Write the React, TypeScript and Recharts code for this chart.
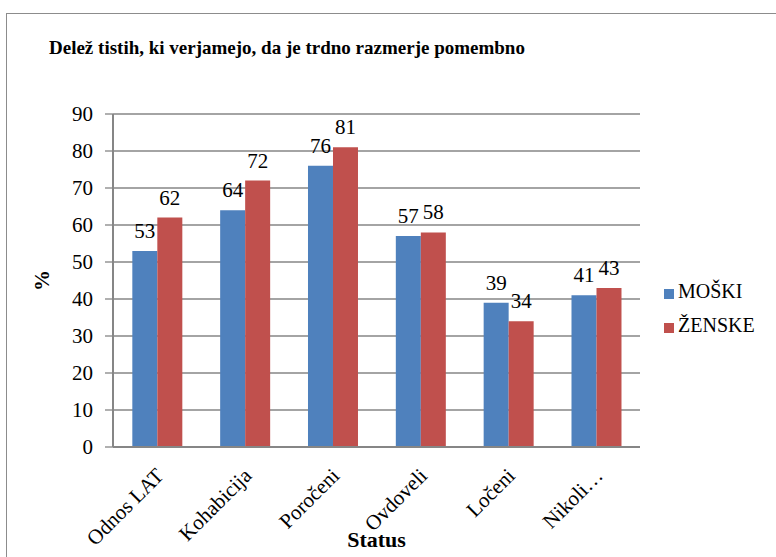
import { Bar, BarChart, CartesianGrid, LabelList, Legend, XAxis, YAxis } from 'recharts';

const statusi = ['Odnos LAT', 'Kohabicija', 'Poročeni', 'Ovdoveli', 'Ločeni', 'Nikoli…'];
const moski = [53, 64, 76, 57, 39, 41];
const zenske = [62, 72, 81, 58, 34, 43];
const yTicks = [0, 10, 20, 30, 40, 50, 60, 70, 80, 90];

const data = statusi.map((status, i) => ({ status, moski: moski[i], zenske: zenske[i] }));

const FONT = 'Liberation Serif';

const XTick = ({ x, y, payload }: any) => (
  <g transform={`translate(${x + 8},${y + 22})`}>
    <text transform="rotate(-45)" textAnchor="end" fontSize={21} fill="#000" fontFamily={FONT}>
      {payload.value}
    </text>
  </g>
);

const YLabel = ({ viewBox }: any) => (
  <text
    transform={`translate(${viewBox.x + 42},${viewBox.y + viewBox.height / 2}) rotate(-90)`}
    textAnchor="middle"
    dominantBaseline="central"
    fontSize={21}
    fontWeight="bold"
    fill="#000"
    fontFamily={FONT}
  >
    %
  </text>
);

const App = () => {
  return (
    <div style={{ position: 'absolute', left: 0, top: 0, width: 776, height: 557, background: '#fff', fontFamily: FONT }}>
      <div style={{ position: 'absolute', left: 6, top: 13, width: 800, height: 600, border: '1.5px solid #8c8c8c' }} />
      <div style={{ position: 'absolute', left: 49, top: 37, fontSize: 19, fontWeight: 'bold', color: '#000', fontFamily: FONT, whiteSpace: 'nowrap' }}>
        Delež tistih, ki verjamejo, da je trdno razmerje pomembno
      </div>
      <BarChart
        width={776}
        height={557}
        data={data}
        margin={{ top: 114, right: 136, left: 0, bottom: 0 }}
        barCategoryGap="22%"
        barGap={0}
        style={{ position: 'absolute', left: 0, top: 0, fontFamily: FONT }}
      >
        <CartesianGrid vertical={false} stroke="#868686" strokeWidth={1.3} />
        <XAxis
          dataKey="status"
          height={110}
          interval={0}
          tickLine={false}
          axisLine={{ stroke: '#868686', strokeWidth: 2 }}
          tick={<XTick />}
          label={{ value: 'Status', position: 'insideBottom', offset: 10, fontSize: 22, fontWeight: 'bold', fill: '#000', fontFamily: FONT }}
        />
        <YAxis
          width={113}
          domain={[0, 90]}
          ticks={yTicks}
          interval={0}
          tickSize={8}
          tickMargin={12}
          tickLine={{ stroke: '#868686', strokeWidth: 1.3 }}
          axisLine={{ stroke: '#868686', strokeWidth: 2 }}
          tick={{ fontSize: 21, fill: '#000', fontFamily: FONT }}
          label={{ content: <YLabel /> }}
        />
        <Legend
          layout="vertical"
          align="center"
          verticalAlign="middle"
          iconType="square"
          iconSize={10}
          formatter={(value) => <span style={{ color: '#000', fontSize: 20, fontFamily: FONT }}>{value}</span>}
          wrapperStyle={{ left: 664, top: 275, width: 110, lineHeight: '33px' }}
        />
        <Bar dataKey="moski" name="MOŠKI" fill="#4F81BD" isAnimationActive={false}>
          <LabelList dataKey="moski" position="top" offset={13} fontSize={21} fill="#000" fontFamily={FONT} />
        </Bar>
        <Bar dataKey="zenske" name="ŽENSKE" fill="#C0504D" isAnimationActive={false}>
          <LabelList dataKey="zenske" position="top" offset={13} fontSize={21} fill="#000" fontFamily={FONT} />
        </Bar>
      </BarChart>
    </div>
  );
};

export default App;
